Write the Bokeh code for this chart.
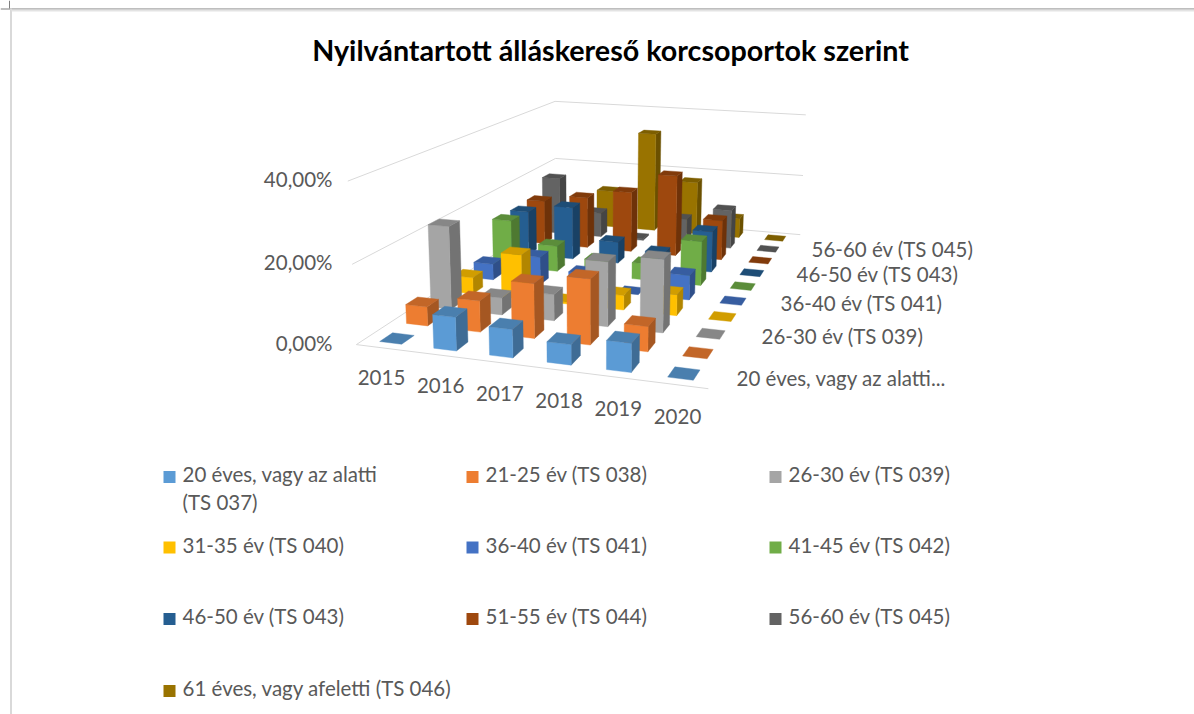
import numpy as np
from bokeh.plotting import figure
from bokeh.models import ColumnDataSource
from bokeh.core.properties import value
from bokeh.embed import file_html
from bokeh.resources import INLINE

TITLE = "Nyilvántartott álláskereső korcsoportok szerint"
YEARS = ["2015", "2016", "2017", "2018", "2019", "2020"]
SERIES = ["20 éves, vagy az alatti (TS 037)", "21-25 év (TS 038)", "26-30 év (TS 039)",
          "31-35 év (TS 040)", "36-40 év (TS 041)", "41-45 év (TS 042)",
          "46-50 év (TS 043)", "51-55 év (TS 044)", "56-60 év (TS 045)",
          "61 éves, vagy afeletti (TS 046)"]
DEPTH_LABELS = ["20 éves, vagy az alatti...", "26-30 év (TS 039)", "36-40 év (TS 041)",
                "46-50 év (TS 043)", "56-60 év (TS 045)"]
Z_TICKS = [0, 20, 40]
Z_LABELS = ["0,00%", "20,00%", "40,00%"]
COLORS = ["#5B9BD5", "#ED7D31", "#A5A5A5", "#FFC000", "#4472C4",
          "#70AD47", "#255E91", "#9E480E", "#636363", "#997300"]

s0 = [0.0, 8.4, 7.0, 5.0, 7.0, 0.0]
s1 = [5.0, 8.1, 14.0, 16.6, 6.3, 0.0]
s2 = [22.4, 4.6, 7.0, 17.0, 19.0, 0.0]
s3 = [4.6, 12.4, 0.5, 4.0, 5.7, 0.0]
s4 = [4.6, 8.0, 4.6, 0.0, 6.9, 0.0]
s5 = [14.0, 7.6, 4.5, 4.8, 12.8, 0.0]
s6 = [13.5, 16.0, 6.5, 4.5, 12.2, 0.0]
s7 = [13.8, 16.0, 18.8, 25.0, 12.2, 0.0]
s8 = [18.3, 7.9, 0.5, 8.2, 12.2, 0.0]
s9 = [0.0, 12.2, 32.5, 17.3, 6.2, 0.0]
VALUES = [s0, s1, s2, s3, s4, s5, s6, s7, s8, s9]

# camera calibration: (u, v, z) of the box -> page pixel
CAL = [((0, 0, 0), (356, 343)), ((1, 0, 0), (708, 389)), ((0, 1, 0), (555, 215)),
       ((1, 1, 0), (800, 233)), ((0, 0, 1), (347, 181)), ((0, 1, 1), (555, 100)),
       ((1, 1, 1), (805, 115))]
A, b = [], []
for (X, Y, Z), (px, py) in CAL:
    A.append([X, Y, Z, 1, 0, 0, 0, 0, -px * X, -px * Y, -px * Z]); b.append(px)
    A.append([0, 0, 0, 0, X, Y, Z, 1, -py * X, -py * Y, -py * Z]); b.append(py)
m = np.linalg.lstsq(np.array(A, float), np.array(b, float), rcond=None)[0]
P = np.append(m, 1.0).reshape(3, 4)


def proj(u, v, val=0.0):
    q = P @ np.array([u, v, val / 40.0, 1.0])
    return q[0] / q[2], q[1] / q[2]


def shade(h, f):
    r, g, bl = int(h[1:3], 16), int(h[3:5], 16), int(h[5:7], 16)
    return "#%02x%02x%02x" % (int(r * f), int(g * f), int(bl * f))


p = figure(width=1194, height=714, x_range=(0, 1194), y_range=(714, 0),
           output_backend="svg", toolbar_location=None, min_border=0)
p.axis.visible = False
p.grid.visible = False
p.outline_line_color = None
p.background_fill_color = "#ffffff"

# window frame of the screenshot
p.segment([9, 0, 10.5], [0, 8.5, 8], [9, 1194, 10.5], [8, 8.5, 714],
          line_color=["#7f7f7f", "#7f7f7f", "#d9d9d9"], line_width=[1, 1.2, 2])
p.segment([11], [10], [1194], [10], line_color="#e3e3e3", line_width=2)

# walls and floor
grid_x, grid_y = [], []
for t in Z_TICKS:
    a, c, d = proj(0, 0, t), proj(0, 1, t), proj(1, 1, t)
    grid_x.append([a[0], c[0], d[0]])
    grid_y.append([a[1], c[1], d[1]])
a, d = proj(0, 0), proj(1, 0)
grid_x.append([a[0], d[0]])
grid_y.append([a[1], d[1]])
p.multi_line(grid_x, grid_y, line_color="#d9d9d9", line_width=1)

# bars: painter's order, back to front, left to right
HU, HV = 0.205 / 6, 0.235 / 10
xs, ys, cols = [], [], []


def face(pts, col):
    xs.append([q[0] for q in pts])
    ys.append([q[1] for q in pts])
    cols.append(col)


for j in range(len(SERIES) - 1, -1, -1):
    for i in range(len(YEARS)):
        val = VALUES[j][i]
        uc, vc = (i + 0.5) / len(YEARS), (j + 0.5) / len(SERIES)
        u0, u1 = uc - HU, uc + HU
        v0, v1 = vc - HV, vc + HV
        col = COLORS[j]
        if val > 0:
            face([proj(u1, v0), proj(u1, v1), proj(u1, v1, val), proj(u1, v0, val)], shade(col, 0.7))
            face([proj(u0, v0), proj(u1, v0), proj(u1, v0, val), proj(u0, v0, val)], col)
        face([proj(u0, v0, val), proj(u1, v0, val), proj(u1, v1, val), proj(u0, v1, val)], shade(col, 0.82))
p.patches("xs", "ys", fill_color="cols", line_color="cols", line_width=0.4,
          source=ColumnDataSource(dict(xs=xs, ys=ys, cols=cols)))

FONT = value("Lato")
GREY = "#595959"
DY = -2


def label(xx, yy, txt, size, align="left", color=GREY, style="normal"):
    p.text([xx], [yy + DY], text=[txt], text_font=FONT, text_font_size=size, text_color=color,
           text_align=align, text_baseline="middle", text_font_style=style)


label(610, 51, TITLE, "28.7px", "center", "#000000", "bold")

for t, lab in zip(Z_TICKS, Z_LABELS):
    q = proj(0, 0, t)
    label(332, q[1], lab, "20.5px", "right")
for i, y in enumerate(YEARS):
    label(381 + 59.2 * i, 379 + 7.8 * i, y, "20.5px", "center")
DEPTH_X = [736, 761, 780, 796, 811]
DEPTH_Y = [379, 337, 304, 275, 250]
for xx, yy, lab in zip(DEPTH_X, DEPTH_Y, DEPTH_LABELS):
    label(xx, yy, lab, "20.5px")

# legend
ROW_Y = [476.5, 547, 618.5, 690.5]
COL_X = [169, 472, 775]
for k, name in enumerate(SERIES):
    r, c = k // 3, k % 3
    p.rect([COL_X[c]], [ROW_Y[r]], width=12, height=12, fill_color=COLORS[k], line_color=None)
    if k == 0:
        label(COL_X[c] + 13, ROW_Y[r] - 1, "20 éves, vagy az alatti", "20.5px")
        label(COL_X[c] + 13, ROW_Y[r] + 27, "(TS 037)", "20.5px")
    else:
        label(COL_X[c] + 13, ROW_Y[r] - 1, name, "20.5px")

open("out.html", "w").write(file_html(p, INLINE))
